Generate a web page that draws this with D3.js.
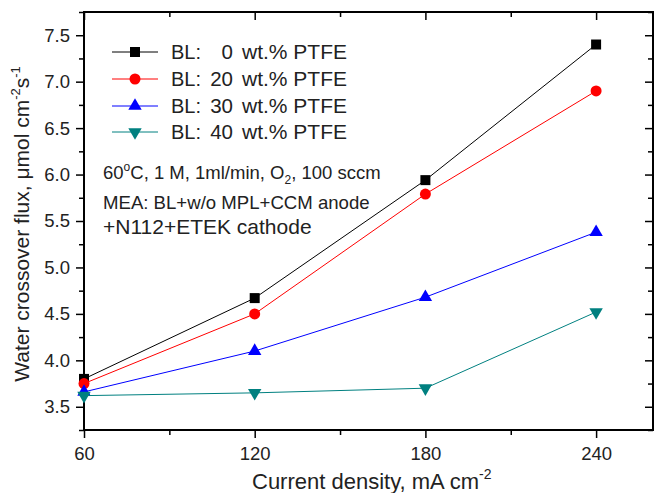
<!DOCTYPE html>
<html>
<head>
<meta charset="utf-8" />
<title>Water crossover flux</title>
<script src="https://d3js.org/d3.v7.min.js"></script>
<style>
body { margin: 0; background: #fff; font-family: Arial, "Liberation Sans", sans-serif; }
.axis text { font-size: 18.5px; fill: #222; font-family: Arial, "Liberation Sans", sans-serif; }
.axis path, .axis line { stroke: #000; }
</style>
</head>
<body>
<div id="chart"></div>
<script>
const currents = [60, 120, 180, 240];
const names = ["0", "20", "30", "40"];
const flux0 = [3.80, 4.67, 5.94, 7.40];
const flux20 = [3.75, 4.50, 5.79, 6.90];
const flux30 = [3.66, 4.10, 4.68, 5.38];
const flux40 = [3.62, 3.65, 3.70, 4.52];
const xTicks = [60, 120, 180, 240];
const yTicks = [3.5, 4.0, 4.5, 5.0, 5.5, 6.0, 6.5, 7.0, 7.5];

const series = [
  {name: names[0], values: flux0, color: "#000000", symbol: d3.symbolSquare, size: 100, rot: 0},
  {name: names[1], values: flux20, color: "#ff0000", symbol: d3.symbolCircle, size: 95, rot: 0},
  {name: names[2], values: flux30, color: "#0000ff", symbol: d3.symbolTriangle, size: 78, rot: 0},
  {name: names[3], values: flux40, color: "#008080", symbol: d3.symbolTriangle, size: 78, rot: 180}
];

const W = 654, H = 493;
const m = {top: 12, right: 1, bottom: 63, left: 84};
const w = W - m.left - m.right, h = H - m.top - m.bottom;

const svg = d3.select("#chart").append("svg")
  .attr("width", W).attr("height", H);
const g = svg.append("g").attr("transform", `translate(${m.left},${m.top})`);

const x = d3.scaleLinear().domain([60, 260]).range([0, w]);
const y = d3.scaleLinear().domain([3.25, 7.75]).range([h, 0]);

// minor ticks
const xMinor = [90, 150, 210];
const yMinor = d3.range(3.25, 7.76, 0.25).filter(v => Math.abs(v * 2 - Math.round(v * 2)) > 0.01);

// bottom axis
g.append("g").attr("class", "axis").attr("transform", `translate(0,${h})`)
  .call(d3.axisBottom(x).tickValues(xTicks).tickSize(8).tickPadding(9).tickFormat(d3.format("d")))
  .call(a => a.select(".domain").remove());
g.append("g").attr("class", "axis").attr("transform", `translate(0,${h})`)
  .call(d3.axisBottom(x).tickValues(xMinor).tickSize(5).tickFormat(""))
  .call(a => a.select(".domain").remove());
// left axis
g.append("g").attr("class", "axis")
  .call(d3.axisLeft(y).tickValues(yTicks).tickSize(8).tickPadding(6).tickFormat(d3.format(".1f")))
  .call(a => a.select(".domain").remove());
g.append("g").attr("class", "axis")
  .call(d3.axisLeft(y).tickValues(yMinor).tickSize(5).tickFormat(""))
  .call(a => a.select(".domain").remove());
// top axis, ticks inward
g.append("g").attr("class", "axis")
  .call(d3.axisTop(x).tickValues(xTicks).tickSize(-8).tickFormat(""))
  .call(a => a.select(".domain").remove());
g.append("g").attr("class", "axis")
  .call(d3.axisTop(x).tickValues(xMinor).tickSize(-5).tickFormat(""))
  .call(a => a.select(".domain").remove());
// right axis, ticks inward
g.append("g").attr("class", "axis").attr("transform", `translate(${w},0)`)
  .call(d3.axisRight(y).tickValues(yTicks).tickSize(-8).tickFormat(""))
  .call(a => a.select(".domain").remove());
g.append("g").attr("class", "axis").attr("transform", `translate(${w},0)`)
  .call(d3.axisRight(y).tickValues(yMinor).tickSize(-5).tickFormat(""))
  .call(a => a.select(".domain").remove());
g.selectAll(".axis line").attr("stroke-width", 1.5);

// frame
g.append("rect").attr("x", 0).attr("y", 0).attr("width", w).attr("height", h)
  .attr("fill", "none").attr("stroke", "#000").attr("stroke-width", 2);

// lines and markers
const line = d3.line().x((d, i) => x(currents[i])).y(d => y(d));
series.forEach(s => {
  g.append("path").datum(s.values)
    .attr("fill", "none").attr("stroke", s.color).attr("stroke-width", 1)
    .attr("d", line);
  g.selectAll(null).data(s.values).enter().append("path")
    .attr("d", d3.symbol().type(s.symbol).size(s.size))
    .attr("fill", s.color)
    .attr("transform", (d, i) => `translate(${x(currents[i])},${y(d)}) rotate(${s.rot})`);
});

// legend
const leg = svg.append("g");
const legY = [52, 79, 106, 132];
series.forEach((s, i) => {
  const row = leg.append("g").attr("transform", `translate(0,${legY[i]})`);
  row.append("line").attr("x1", 112).attr("x2", 158).attr("y1", 0).attr("y2", 0)
    .attr("stroke", s.color).attr("stroke-width", 1);
  row.append("path").attr("d", d3.symbol().type(s.symbol).size(s.size))
    .attr("fill", s.color).attr("transform", `translate(135,0) rotate(${s.rot})`);
  row.append("text").attr("x", 171).attr("y", 7).attr("font-size", 20).attr("fill", "#222").text("BL:");
  row.append("text").attr("x", 233).attr("y", 7).attr("font-size", 20.5).attr("fill", "#222")
    .attr("text-anchor", "end").text(s.name);
  row.append("text").attr("x", 242).attr("y", 7).attr("font-size", 21).attr("fill", "#222").text("wt.% PTFE");
});

// annotations
const ann = svg.append("g").attr("fill", "#222");
const t1 = ann.append("text").attr("x", 103).attr("y", 179).attr("font-size", 18.5);
t1.append("tspan").text("60");
t1.append("tspan").attr("font-size", 12).attr("dy", -8).text("o");
t1.append("tspan").attr("dy", 8).text("C, 1 M, 1ml/min, O");
t1.append("tspan").attr("font-size", 12).attr("dy", 5).text("2");
t1.append("tspan").attr("dy", -5).text(", 100 sccm");
ann.append("text").attr("x", 103).attr("y", 209).attr("font-size", 18.6)
  .text("MEA: BL+w/o MPL+CCM anode");
ann.append("text").attr("x", 103).attr("y", 234).attr("font-size", 21)
  .text("+N112+ETEK cathode");

// axis titles
const xt = svg.append("text").attr("x", 252).attr("y", 489)
  .attr("font-size", 22).attr("fill", "#222");
xt.append("tspan").text("Current density, mA cm");
xt.append("tspan").attr("font-size", 14).attr("dy", -10).text("-2");

const yt = svg.append("text")
  .attr("transform", `translate(29,${m.top + h / 2 + 3}) rotate(-90)`)
  .attr("text-anchor", "middle").attr("font-size", 21).attr("fill", "#222");
yt.append("tspan").text("Water crossover flux, \u03bcmol cm");
yt.append("tspan").attr("font-size", 13).attr("dy", -9).text("-2");
yt.append("tspan").attr("dy", 9).text("s");
yt.append("tspan").attr("font-size", 13).attr("dy", -9).text("-1");
</script>
</body>
</html>
